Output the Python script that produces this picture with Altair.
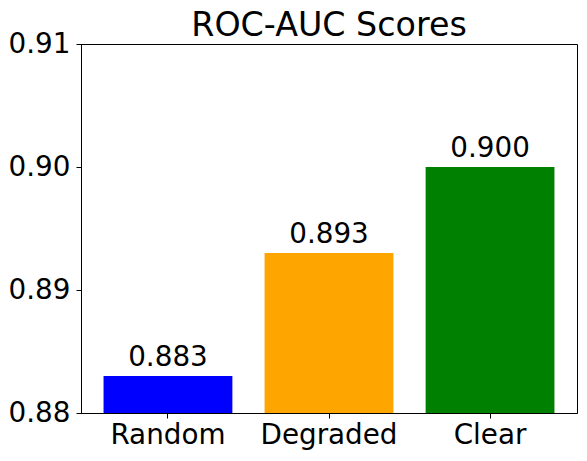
import altair as alt
import pandas as pd

categories = ["Random", "Degraded", "Clear"]
scores = [0.883, 0.893, 0.900]
colors = ["#0000ff", "#ffa500", "#008000"]
y_ticks = [0.88, 0.89, 0.90, 0.91]

df = pd.DataFrame({"model": categories, "score": scores,
                   "label": [f"{s:.3f}" for s in scores]})

FONT = "DejaVu Sans"
FS = 27.8

x = alt.X("model:N", sort=categories, title=None,
          scale=alt.Scale(paddingInner=0.2, paddingOuter=0.14),
          axis=alt.Axis(labelAngle=0, labelFontSize=FS, labelFont=FONT,
                        labelColor="black", tickColor="black", tickSize=5,
                        domainColor="black", labelPadding=3))
y = alt.Y("score:Q", title=None,
          scale=alt.Scale(domain=[0.88, 0.91], zero=False, nice=False),
          axis=alt.Axis(values=y_ticks, format=".2f", labelFontSize=FS,
                        labelFont=FONT, labelColor="black", tickColor="black",
                        tickSize=5, domainColor="black", grid=False,
                        labelPadding=6))

bars = alt.Chart(df).mark_bar().encode(
    x=x, y=y, y2=alt.datum(0.88),
    color=alt.Color("model:N", sort=categories,
                    scale=alt.Scale(domain=categories, range=colors),
                    legend=None),
)

text = alt.Chart(df).mark_text(fontSize=FS, font=FONT, color="black",
                               baseline="alphabetic", dy=-10).encode(
    x=alt.X("model:N", sort=categories), y="score:Q", text="label:N")

chart = (bars + text).properties(
    width=496, height=369,
    title=alt.TitleParams("ROC-AUC Scores", fontSize=33.3, font=FONT,
                          fontWeight="normal", color="black", offset=-13),
    autosize=alt.AutoSizeParams(type="none"),
    padding={"left": 73, "top": 36, "right": 2, "bottom": 40},
).configure_view(stroke="black", strokeWidth=1)

chart.save("out.html", embed_options={"renderer": "svg", "actions": False})
